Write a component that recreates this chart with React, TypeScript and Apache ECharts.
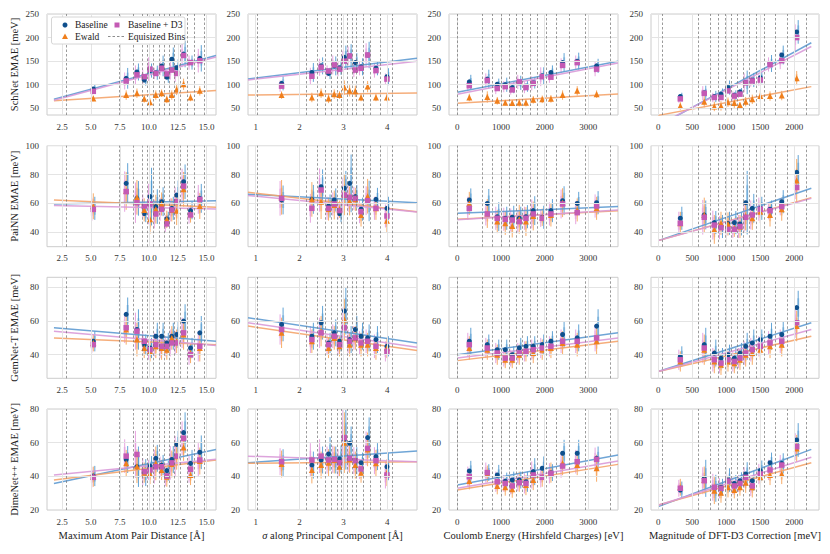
import React, { useEffect, useRef } from 'react';
import * as echarts from 'echarts';

// ---------- x positions (bin means) and equisized bin edges per column ----------
const distCenters = [5.2, 8.04, 8.97, 9.6, 10.1, 10.6, 11.1, 11.55, 11.98, 12.4, 13.0, 13.6, 14.4];
const sigmaCenters = [1.59, 2.28, 2.49, 2.66, 2.79, 2.91, 3.02, 3.14, 3.27, 3.4, 3.55, 3.74, 3.99];
const coulombCenters = [275, 687, 915, 1098, 1258, 1419, 1572, 1739, 1945, 2144, 2411, 2746, 3190];
const dftd3Centers = [324, 676, 824, 922, 1025, 1118, 1201, 1285, 1382, 1500, 1643, 1815, 2035];

const distEdges = [2.84, 7.45, 8.67, 9.4, 9.83, 10.4, 10.9, 11.3, 11.77, 12.2, 12.7, 13.33, 13.93, 14.76];
const sigmaEdges = [1.04, 2.15, 2.41, 2.58, 2.72, 2.85, 2.96, 3.08, 3.19, 3.3, 3.45, 3.61, 3.83, 4.12];
const coulombEdges = [0, 565, 810, 1015, 1190, 1343, 1497, 1664, 1831, 2030, 2259, 2563, 2938, 3494];
const dftd3Edges = [59, 588, 770, 882, 980, 1079, 1162, 1250, 1338, 1437, 1559, 1716, 1897, 2182];

// ---------- tick labels ----------
const distTicks = [2.5, 5.0, 7.5, 10.0, 12.5, 15.0];
const sigmaTicks = [1, 2, 3, 4];
const coulombTicks = [0, 1000, 2000, 3000];
const dftd3Ticks = [0, 500, 1000, 1500, 2000];
const schnetTicks = [50, 100, 150, 200, 250];
const painnTicks = [40, 60, 80, 100];
const gemnetTicks = [40, 60, 80];
const dimenetTicks = [20, 40, 60, 80];

const xNames = [
  'Maximum Atom Pair Distance [Å]',
  '{i|σ} along Principal Component [Å]',
  'Coulomb Energy (Hirshfeld Charges) [eV]',
  'Magnitude of DFT-D3 Correction [meV]',
];
const yNames = ['SchNet EMAE [meV]', 'PaiNN EMAE [meV]', 'GemNet-T EMAE [meV]', 'DimeNet++ EMAE [meV]'];

// ---------- EMAE values: [distance, sigma, coulomb, dft-d3] per model ----------
const schnetBase = [
  [91, 113.6, 127, 110, 130, 125.6, 139.8, 116, 154, 136, 165, 147, 156],
  [103, 126, 140, 124, 140, 136, 158, 161, 147, 138, 163, 135, 117],
  [106, 112, 101, 100, 94, 104, 97, 104, 119, 126, 147, 150, 140],
  [75, 83, 75, 80, 94, 78, 85, 105, 110, 115, 145, 163, 212],
];
const schnetEwald = [
  [71, 78, 82, 70, 63, 78, 82, 69, 78, 90, 101, 73, 87],
  [78, 73, 82, 71, 80, 78, 94, 87, 86, 73, 96, 73, 73],
  [73, 74, 66, 62, 61, 62, 62, 68, 69, 70, 78, 87, 80],
  [55, 64, 54, 55, 63, 61, 57, 64, 69, 76, 76, 77, 114],
];
const schnetD3 = [
  [86, 108, 121, 117, 133, 124, 135, 123, 131, 124, 162, 147, 151],
  [97, 118, 137, 129, 142, 133, 150, 161, 131, 135, 163, 130, 112],
  [98, 109, 92, 96, 89, 106, 94, 103, 117, 116, 141, 147, 133],
  [70, 82, 73, 73, 87, 76, 80, 104, 108, 110, 143, 151, 200],
];
const painnBase = [
  [56.6, 73.9, 63.5, 53, 64.7, 57.8, 61.2, 49.2, 56.6, 65.8, 75, 55, 63.5],
  [62.4, 62.8, 71.6, 58.2, 62.4, 53, 70.5, 73.9, 64.7, 56, 61.7, 62.8, 56.6],
  [62.4, 60, 50.8, 49.7, 50.4, 49.7, 50.8, 55, 50.4, 55, 61.9, 60, 60.5],
  [49.7, 52, 46.7, 44, 46.2, 46.7, 45.8, 60.5, 56.6, 56.6, 56, 61.2, 81.5],
];
const painnEwald = [
  [58, 68.6, 64.2, 55.5, 49, 56, 59.6, 49, 55.5, 55, 69.8, 52.7, 58.2],
  [64.2, 62.8, 61.2, 56.1, 58.9, 56, 65.8, 61.7, 62.8, 52, 65, 56.6, 48],
  [60, 53, 47.4, 46.2, 44.4, 49, 47.4, 51.3, 50.4, 52, 60.5, 55.5, 56.6],
  [46.2, 52, 42, 46.2, 45.8, 42.8, 44, 51.3, 49.7, 54.3, 52, 56, 75.8],
];
const painnD3 = [
  [55.9, 68.2, 60.5, 58.2, 59.6, 52.7, 56, 45.8, 55.5, 61.2, 72, 52, 62.8],
  [63.5, 56.6, 69.3, 56.6, 59.6, 55, 65.8, 64.2, 63.5, 54.3, 61.9, 56.6, 51.3],
  [56.6, 52.7, 49.7, 49, 48.5, 47.4, 49.7, 52.7, 49.7, 52.7, 59.6, 53.6, 58.2],
  [46.2, 50.4, 45, 43.2, 42, 42, 44, 50.4, 52, 56, 55, 57.8, 71],
];
const gemnetBase = [
  [48, 64, 55, 46, 44, 51, 51, 47, 51, 52, 60, 44, 53],
  [58, 51, 59, 47, 53, 48, 66, 49, 55, 51, 50, 49, 45],
  [48, 46, 43, 43, 40, 44, 45, 45, 46, 48, 52, 50, 57],
  [39, 46, 41, 38, 40, 38, 41, 45, 47, 49, 51, 52, 68],
];
const gemnetEwald = [
  [47, 55, 49, 44, 42, 45, 44, 43, 50, 48, 52, 41, 44],
  [53, 48, 54, 44, 50, 45, 61, 46, 50, 46, 46, 44, 44],
  [44, 43, 40, 37, 37, 40, 42, 41, 43, 44, 47, 46, 48],
  [36, 43, 36, 34, 36, 35, 37, 40, 41, 43, 45, 46, 57],
];
const gemnetD3 = [
  [46, 56, 54, 48, 43, 46, 45, 45, 47, 47, 53, 40, 45],
  [55, 49, 53, 46, 51, 46, 56, 48, 50, 47, 48, 45, 42],
  [46, 44, 41, 38, 38, 41, 42, 43, 44, 45, 48, 48, 50],
  [37, 44, 37, 35, 37, 36, 38, 41, 43, 45, 47, 48, 59],
];
const dimenetBase = [
  [40.2, 50, 45.7, 42.2, 46, 50.7, 46.7, 43.4, 50, 59, 66, 47.7, 54.3],
  [48.1, 46.7, 49.7, 53.3, 49.7, 50.3, 62, 59.6, 49.3, 48.1, 63, 51.7, 45.7],
  [43.2, 42.2, 40.8, 37.2, 37.8, 37.8, 36.8, 42.8, 44.8, 42.2, 53.7, 53.7, 50.7],
  [31.9, 38.8, 32.9, 33.5, 37.8, 35.8, 37.4, 41.4, 37.4, 43.4, 48.1, 47.7, 61.6],
];
const dimenetEwald = [
  [39.8, 47.7, 46, 42.2, 41.4, 47.7, 43.8, 39.8, 47.3, 52, 57.2, 40.8, 49.1],
  [47.3, 43.8, 46.7, 48.1, 49.7, 45.7, 60, 50.1, 46.7, 42.2, 56, 47.7, 42.2],
  [37.2, 41.4, 34.3, 33.5, 32.3, 36.8, 34.8, 37.8, 39.8, 42.2, 47.7, 46.7, 44.8],
  [33.5, 37.8, 31.5, 30.3, 33.5, 31.9, 33.5, 36.2, 33.5, 39.4, 40.8, 41.4, 56.6],
];
const dimenetD3 = [
  [39.4, 52, 53, 42.8, 43.8, 45.7, 45.7, 40.2, 48, 52, 62.6, 44.2, 49.7],
  [48.7, 49.7, 52, 49.7, 50.1, 48.1, 63, 50.7, 49.3, 44.4, 56.6, 49.3, 40.8],
  [39.8, 42.2, 36.8, 35.8, 34.3, 36.2, 35.8, 40.8, 39.4, 41.8, 46.1, 48.7, 50.1],
  [32.9, 37.4, 33.5, 32.9, 37.2, 34.3, 35.8, 39.4, 34.3, 41.4, 43.8, 46.7, 57.6],
];

// ---------- error bar half-widths ----------
const schnetErrBase = [
  [10, 22, 18, 12, 15, 15, 22, 12, 25, 18, 28, 15, 28],
  [15, 20, 18, 12, 20, 15, 25, 25, 20, 18, 28, 15, 18],
  [15, 20, 12, 15, 12, 15, 12, 12, 18, 15, 20, 18, 15],
  [8, 15, 12, 12, 15, 10, 8, 25, 15, 12, 18, 20, 25],
];
const schnetErrEwald = [
  [6, 10, 10, 8, 8, 10, 8, 8, 10, 12, 12, 8, 10],
  [8, 10, 10, 10, 10, 8, 15, 12, 12, 8, 12, 8, 8],
  [8, 12, 8, 6, 6, 8, 8, 8, 8, 8, 10, 10, 8],
  [8, 12, 10, 10, 10, 10, 6, 10, 10, 12, 10, 10, 15],
];
const schnetErrD3 = [
  [8, 18, 20, 15, 25, 12, 15, 12, 20, 18, 25, 15, 25],
  [12, 18, 18, 12, 20, 15, 22, 20, 15, 15, 25, 15, 12],
  [12, 15, 12, 12, 10, 15, 12, 15, 20, 12, 15, 15, 15],
  [8, 15, 10, 10, 12, 10, 8, 20, 12, 12, 15, 18, 28],
];
const painnErrBase = [
  [8, 14, 12, 6, 20, 12, 10, 5, 8, 10, 12, 6, 10],
  [10, 10, 12, 8, 8, 6, 12, 20, 8, 8, 14, 8, 8],
  [8, 10, 10, 8, 8, 8, 8, 10, 8, 8, 10, 8, 8],
  [8, 10, 8, 8, 8, 8, 8, 22, 10, 8, 6, 8, 12],
];
const painnErrEwald = [
  [9, 13, 12, 8, 10, 10, 8, 6, 8, 10, 12, 6, 9],
  [12, 12, 12, 8, 10, 6, 14, 10, 8, 8, 12, 8, 8],
  [8, 10, 8, 8, 8, 10, 10, 10, 6, 8, 10, 8, 8],
  [8, 12, 10, 8, 8, 6, 8, 10, 8, 8, 8, 8, 15],
];
const painnErrD3 = [
  [8, 14, 14, 8, 14, 10, 8, 6, 8, 10, 12, 6, 10],
  [12, 10, 15, 8, 8, 6, 12, 10, 8, 8, 10, 8, 8],
  [8, 8, 8, 8, 8, 8, 8, 10, 6, 8, 10, 8, 8],
  [8, 12, 10, 8, 8, 6, 8, 10, 10, 8, 6, 6, 8],
];
const gemnetErrBase = [
  [6, 10, 12, 6, 6, 8, 8, 6, 8, 8, 10, 6, 10],
  [10, 8, 10, 6, 8, 6, 14, 8, 8, 8, 8, 8, 6],
  [8, 6, 6, 6, 5, 6, 6, 6, 6, 6, 8, 8, 10],
  [6, 10, 8, 6, 6, 6, 6, 8, 8, 6, 8, 8, 10],
];
const gemnetErrEwald = [
  [5, 9, 10, 6, 6, 7, 7, 6, 7, 7, 9, 6, 8],
  [9, 7, 9, 6, 7, 6, 12, 7, 7, 7, 7, 7, 6],
  [7, 6, 6, 5, 5, 6, 6, 6, 6, 6, 7, 7, 8],
  [6, 9, 7, 6, 6, 6, 6, 7, 7, 6, 7, 7, 9],
];
const gemnetErrD3 = [
  [5, 9, 11, 6, 6, 7, 7, 6, 8, 7, 9, 6, 9],
  [9, 8, 9, 6, 7, 6, 12, 7, 7, 7, 7, 7, 6],
  [7, 6, 6, 5, 5, 6, 6, 6, 6, 6, 7, 7, 8],
  [6, 9, 7, 6, 6, 6, 6, 7, 7, 6, 7, 7, 9],
];
const dimenetErrBase = [
  [6, 8, 12, 8, 6, 8, 6, 6, 8, 8, 12, 8, 10],
  [8, 8, 8, 10, 8, 8, 18, 10, 8, 6, 12, 8, 8],
  [6, 5, 6, 5, 5, 5, 6, 8, 7, 5, 8, 8, 7],
  [5, 11, 8, 5, 7, 5, 5, 7, 6, 6, 6, 6, 10],
];
const dimenetErrEwald = [
  [6, 8, 10, 6, 6, 10, 6, 6, 8, 8, 8, 6, 8],
  [8, 8, 8, 8, 8, 6, 18, 8, 8, 6, 10, 8, 8],
  [5, 5, 5, 5, 5, 6, 6, 6, 6, 6, 7, 6, 8],
  [5, 8, 8, 6, 6, 5, 5, 6, 6, 6, 6, 6, 8],
];
const dimenetErrD3 = [
  [6, 10, 14, 8, 6, 10, 6, 6, 10, 12, 10, 8, 10],
  [8, 10, 10, 8, 8, 8, 18, 8, 8, 6, 10, 8, 8],
  [6, 6, 6, 5, 5, 5, 6, 8, 6, 6, 7, 7, 7],
  [5, 8, 8, 6, 7, 5, 5, 6, 6, 6, 6, 6, 8],
];

// ---------- regression line end values [start, end] per column ----------
const schnetFitBase = [[69, 162], [112, 156], [84, 150], [12.8, 189]];
const schnetFitEwald = [[66, 88], [78, 82.5], [60.6, 80.5], [35, 96]];
const schnetFitD3 = [[67, 159], [110, 150], [80, 146], [15, 181]];
const painnFitBase = [[59.6, 61.9], [66.3, 60.5], [53.1, 57.8], [34.2, 70.5]];
const painnFitEwald = [[62.4, 57.3], [67.7, 54.3], [49, 55], [34.2, 64]];
const painnFitD3 = [[58.5, 56.1], [65.5, 54], [48.6, 55.5], [34.2, 63.5]];
const gemnetFitBase = [[56, 48], [62, 47], [40, 53], [30, 59]];
const gemnetFitEwald = [[50, 46], [57, 42.5], [36.5, 48], [30, 51]];
const gemnetFitD3 = [[54, 45.5], [59, 44.5], [38, 50], [30, 55]];
const dimenetFitBase = [[35.8, 56], [48.1, 55], [34.8, 52.7], [22, 56]];
const dimenetFitEwald = [[37.8, 49.7], [47.7, 48.7], [31.9, 47.1], [23, 48.1]];
const dimenetFitD3 = [[40.8, 50.1], [52, 48.7], [32.9, 49.1], [22.8, 51.3]];

// ---------- layout / styling ----------
const FONT = 'Liberation Serif';
const C_BASE = '#0e4f8c', C_BASE_ERR = '#2f86c8', C_BASE_FIT = '#5f9bd2';
const C_EW = '#f07f1c', C_EW_ERR = '#f4923a', C_EW_FIT = '#f4a46c';
const C_D3 = '#c45ab4', C_D3_ERR = '#e089d6', C_D3_FIT = '#d99ad8';

const colLeft = [47, 248, 449, 651];
const colWidth = [169, 169, 169, 168];
const rowTop = [14, 145.7, 277.3, 409];
const rowHeight = 101;

const colCenters = [distCenters, sigmaCenters, coulombCenters, dftd3Centers];
const colEdges = [distEdges, sigmaEdges, coulombEdges, dftd3Edges];
const colTicks = [distTicks, sigmaTicks, coulombTicks, dftd3Ticks];
const colRange = [[1.2, 15.8], [0.825, 4.675], [-190, 3680], [-107, 2363]];
const colFitX = [[1.8, 15.8], [0.825, 4.675], [0, 3680], [0, 2250]];
const colFmt = [(v: number) => v.toFixed(1), (v: number) => String(v), (v: number) => String(v), (v: number) => String(v)];
const rowTicks = [schnetTicks, painnTicks, gemnetTicks, dimenetTicks];
const rowRange = [[35.8, 250], [30, 100], [26, 86], [20, 80]];
const rowBase = [schnetBase, painnBase, gemnetBase, dimenetBase];
const rowEwald = [schnetEwald, painnEwald, gemnetEwald, dimenetEwald];
const rowD3 = [schnetD3, painnD3, gemnetD3, dimenetD3];
const rowErrBase = [schnetErrBase, painnErrBase, gemnetErrBase, dimenetErrBase];
const rowErrEwald = [schnetErrEwald, painnErrEwald, gemnetErrEwald, dimenetErrEwald];
const rowErrD3 = [schnetErrD3, painnErrD3, gemnetErrD3, dimenetErrD3];
const rowFitBase = [schnetFitBase, painnFitBase, gemnetFitBase, dimenetFitBase];
const rowFitEwald = [schnetFitEwald, painnFitEwald, gemnetFitEwald, dimenetFitEwald];
const rowFitD3 = [schnetFitD3, painnFitD3, gemnetFitD3, dimenetFitD3];

const makeErr = (color: string, dx: number) => (params: any, api: any) => {
  const x = api.value(0), y = api.value(1), e = api.value(2);
  const p1 = api.coord([x, y + e]);
  const p2 = api.coord([x, y - e]);
  const q1 = api.coord([x, y + e * 0.55]);
  const q2 = api.coord([x, y - e * 0.55]);
  return {
    type: 'group',
    children: [
      { type: 'line', shape: { x1: q1[0] + dx, y1: q1[1], x2: q2[0] + dx, y2: q2[1] }, style: { stroke: color, lineWidth: 2.2, opacity: 0.3 } },
      { type: 'line', shape: { x1: p1[0] + dx, y1: p1[1], x2: p2[0] + dx, y2: p2[1] }, style: { stroke: color, lineWidth: 0.9, opacity: 0.85 } },
    ],
  };
};

function buildOption() {
  const grid: any[] = [];
  const xAxis: any[] = [];
  const yAxis: any[] = [];
  const series: any[] = [];
  for (let r = 0; r < 4; r++) {
    for (let c = 0; c < 4; c++) {
      const i = r * 4 + c;
      grid.push({
        left: colLeft[c], top: rowTop[r], width: colWidth[c], height: rowHeight,
        show: true, borderColor: '#cccccc', borderWidth: 1, backgroundColor: 'transparent',
      });
      xAxis.push({
        type: 'value', gridIndex: i, min: colRange[c][0], max: colRange[c][1],
        axisLine: { show: false }, axisTick: { show: false }, splitLine: { show: false },
        axisLabel: {
          customValues: colTicks[c], formatter: colFmt[c], fontFamily: FONT, fontSize: 9, color: '#333', margin: 7,
        },
        name: r === 3 ? xNames[c] : '',
        nameLocation: 'middle', nameGap: 20,
        nameTextStyle: {
          fontFamily: FONT, fontSize: 10.5, color: '#222',
          rich: { i: { fontFamily: FONT, fontSize: 10.5, fontStyle: 'italic', color: '#222' } },
        },
      });
      yAxis.push({
        type: 'value', gridIndex: i, min: rowRange[r][0], max: rowRange[r][1],
        axisLine: { show: false }, axisTick: { show: false }, splitLine: { show: false },
        axisLabel: { customValues: rowTicks[r], fontFamily: FONT, fontSize: 9, color: '#333', margin: 8 },
        name: c === 0 ? yNames[r] : '',
        nameLocation: 'middle', nameGap: 27,
        nameTextStyle: { fontFamily: FONT, fontSize: 10.5, color: '#222' },
      });
      const fx = colFitX[c];
      const centers = colCenters[c];
      const ml: any[] = [];
      colTicks[c].forEach((v) => ml.push({ xAxis: v, lineStyle: { color: '#e4e4e4', width: 1, type: 'solid' } }));
      rowTicks[r].forEach((v) => ml.push({ yAxis: v, lineStyle: { color: '#e4e4e4', width: 1, type: 'solid' } }));
      colEdges[c].forEach((v) => ml.push({ xAxis: v, lineStyle: { color: '#707070', width: 0.7, type: [2.5, 2] } }));
      series.push({
        type: 'line', xAxisIndex: i, yAxisIndex: i, z: 0, silent: true,
        data: [[fx[0], rowFitBase[r][c][0]], [fx[1], rowFitBase[r][c][1]]],
        showSymbol: false, lineStyle: { opacity: 0 },
        markLine: { silent: true, symbol: ['none', 'none'], label: { show: false }, animation: false, data: ml },
      });
      const models = [
        { vals: rowBase[r][c], errs: rowErrBase[r][c], fit: rowFitBase[r][c], col: C_BASE, err: C_BASE_ERR, fitc: C_BASE_FIT, dx: 1.5, sym: 'circle', size: 5, name: 'Baseline' },
        { vals: rowEwald[r][c], errs: rowErrEwald[r][c], fit: rowFitEwald[r][c], col: C_EW, err: C_EW_ERR, fitc: C_EW_FIT, dx: 0, sym: 'triangle', size: 6, name: 'Ewald' },
        { vals: rowD3[r][c], errs: rowErrD3[r][c], fit: rowFitD3[r][c], col: C_D3, err: C_D3_ERR, fitc: C_D3_FIT, dx: -1.5, sym: 'rect', size: 5.5, name: 'Baseline + D3' },
      ];
      models.forEach((m) => {
        series.push({
          type: 'custom', name: m.name, xAxisIndex: i, yAxisIndex: i, z: 2, silent: true, clip: true,
          renderItem: makeErr(m.err, m.dx),
          encode: { x: 0, y: 1 },
          data: centers.map((x, k) => [x, m.vals[k], m.errs[k]]),
        });
      });
      models.forEach((m) => {
        series.push({
          type: 'line', name: m.name, xAxisIndex: i, yAxisIndex: i, z: 3, silent: true, clip: true,
          data: [[fx[0], m.fit[0]], [fx[1], m.fit[1]]],
          showSymbol: false, lineStyle: { color: m.fitc, width: 1.5, opacity: 0.9 },
        });
      });
      models.forEach((m) => {
        series.push({
          type: 'scatter', name: m.name, xAxisIndex: i, yAxisIndex: i, z: 4, silent: true,
          symbol: m.sym, symbolSize: m.size,
          itemStyle: { color: m.col, opacity: 1 },
          data: centers.map((x, k) => [x, m.vals[k]]),
        });
      });
    }
  }
  const ts = { fontFamily: FONT, fontSize: 9.5, fill: '#222', verticalAlign: 'middle', align: 'left' };
  const Z = 100;
  const graphic = [
    { type: 'rect', z: Z, shape: { x: 51.5, y: 17, width: 133.5, height: 27, r: 2 }, style: { fill: '#ffffff', stroke: '#cccccc', lineWidth: 0.8 } },
    { type: 'circle', z: Z + 1, shape: { cx: 65, cy: 25, r: 2.5 }, style: { fill: C_BASE } },
    { type: 'text', z: Z + 1, style: { ...ts, text: 'Baseline', x: 75, y: 25 } },
    { type: 'rect', z: Z + 1, shape: { x: 114.5, y: 22.5, width: 5, height: 5 }, style: { fill: C_D3 } },
    { type: 'text', z: Z + 1, style: { ...ts, text: 'Baseline + D3', x: 128, y: 25 } },
    { type: 'polygon', z: Z + 1, shape: { points: [[65, 33.5], [68, 39], [62, 39]] }, style: { fill: C_EW } },
    { type: 'text', z: Z + 1, style: { ...ts, text: 'Ewald', x: 75, y: 36.5 } },
    { type: 'line', z: Z + 1, shape: { x1: 108, y1: 36.5, x2: 125, y2: 36.5 }, style: { stroke: '#707070', lineWidth: 0.8, lineDash: [2.5, 2] } },
    { type: 'text', z: Z + 1, style: { ...ts, text: 'Equisized Bins', x: 128, y: 36.5 } },
  ];
  return { animation: false, backgroundColor: '#ffffff', grid, xAxis, yAxis, series, graphic };
}

export default function App() {
  const ref = useRef<HTMLDivElement>(null);
  useEffect(() => {
    if (!ref.current) return;
    const chart = echarts.init(ref.current, undefined, { renderer: 'svg' });
    chart.setOption(buildOption() as any);
    return () => chart.dispose();
  }, []);
  return <div ref={ref} style={{ position: 'fixed', left: 0, top: 0, width: 830, height: 554, background: '#fff' }} />;
}
